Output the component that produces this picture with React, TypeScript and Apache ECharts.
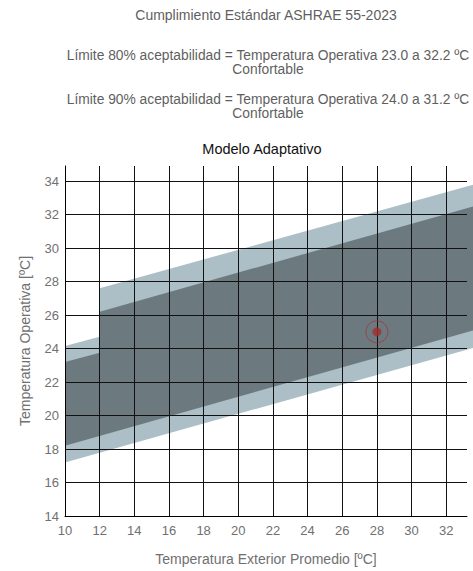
import React, { useEffect, useRef } from "react";
import * as echarts from "echarts";

// Header texts
const headerTitle = "Cumplimiento Estándar ASHRAE 55-2023";
const limit80Text = "Límite 80% aceptabilidad = Temperatura Operativa 23.0 a 32.2 ºC\nConfortable";
const limit90Text = "Límite 90% aceptabilidad = Temperatura Operativa 24.0 a 31.2 ºC\nConfortable";
const chartTitle = "Modelo Adaptativo";
const xAxisName = "Temperatura Exterior Promedio [ºC]";
const yAxisName = "Temperatura Operativa [ºC]";

// Axis ranges / ticks
const xMin = 10;
const xMax = 33.2;
const xStep = 2;
const yMin = 14;
const yMax = 34.9;
const yStep = 2;

// Acceptability bands (outline points: lower edge left->right, upper edge right->left)
const band80: number[][] = [
  [10, 17.2],
  [33.6, 24.05],
  [33.6, 33.8],
  [12, 27.6],
  [12, 24.7],
  [10, 24.15],
];
const band90: number[][] = [
  [10, 18.2],
  [33.6, 25.1],
  [33.6, 32.5],
  [12, 26.2],
  [12, 23.75],
  [10, 23.2],
];

// Measured condition
const measuredPoint: number[][] = [[28, 25]];

const FONT = "'Liberation Sans', Arial, sans-serif";
const GREY = "#707070";
const HEAD = "#5f5f5f";

export default function App() {
  const ref = useRef<HTMLDivElement>(null);

  useEffect(() => {
    const chart = echarts.init(ref.current as HTMLDivElement, null, { renderer: "svg" });

    const bandSeries = (name: string, pts: number[][], color: string, z: number) => ({
      type: "custom",
      name,
      z,
      clip: false,
      silent: true,
      encode: { x: 0, y: 1 },
      data: pts,
      renderItem: (params: any, api: any) => {
        if (params.dataIndex !== 0) return null;
        return {
          type: "polygon",
          shape: { points: pts.map((p) => api.coord(p)) },
          style: { fill: color, stroke: "none" },
        };
      },
    });

    const textEl = (text: string, x: number, y: number, color: string, size: number, lh?: number) => ({
      type: "text",
      x,
      y,
      style: {
        text,
        fill: color,
        fontSize: size,
        fontFamily: FONT,
        lineHeight: lh || size + 2,
        textAlign: "center",
        textVerticalAlign: "middle",
      },
    });

    chart.setOption({
      animation: false,
      backgroundColor: "#ffffff",
      textStyle: { fontFamily: FONT },
      grid: { left: 65, right: 6, top: 166, bottom: 45, containLabel: false },
      graphic: [
        textEl(headerTitle, 266, 15, HEAD, 14),
        textEl(limit80Text, 268, 62.5, HEAD, 13.8, 14),
        textEl(limit90Text, 268, 106.5, HEAD, 13.8, 14),
        textEl(chartTitle, 262, 149, "#111111", 14.5),
      ],
      xAxis: {
        type: "value",
        min: xMin,
        max: xMax,
        interval: xStep,
        z: 3,
        name: xAxisName,
        nameLocation: "middle",
        nameGap: 36,
        nameTextStyle: { color: GREY, fontSize: 14, fontFamily: FONT },
        axisLine: { show: true, onZero: false, lineStyle: { color: "#000", width: 1 } },
        axisTick: { show: false },
        axisLabel: { color: GREY, fontSize: 13, margin: 8, showMaxLabel: false, fontFamily: FONT },
        splitLine: {
          show: true,
          showMinLine: false,
          showMaxLine: false,
          lineStyle: { color: "#111", width: 1 },
        },
      },
      yAxis: {
        type: "value",
        min: yMin,
        max: yMax,
        interval: yStep,
        z: 3,
        name: yAxisName,
        nameLocation: "middle",
        nameGap: 33,
        nameTextStyle: { color: GREY, fontSize: 14, fontFamily: FONT },
        axisLine: { show: true, onZero: false, lineStyle: { color: "#000", width: 1 } },
        axisTick: { show: false },
        axisLabel: { color: GREY, fontSize: 13, margin: 6, showMaxLabel: false, fontFamily: FONT },
        splitLine: {
          show: true,
          showMinLine: false,
          showMaxLine: false,
          lineStyle: { color: "#111", width: 1 },
        },
      },
      series: [
        bandSeries("80%", band80, "#adbfc6", 1),
        bandSeries("90%", band90, "#6c7a80", 2),
        {
          type: "scatter",
          name: "ring",
          z: 5,
          data: measuredPoint,
          symbol: "circle",
          symbolSize: 22,
          itemStyle: { color: "rgba(0,0,0,0)", borderColor: "rgba(170,40,40,0.8)", borderWidth: 1 },
          silent: true,
        },
        {
          type: "scatter",
          name: "punto",
          z: 6,
          data: measuredPoint,
          symbol: "circle",
          symbolSize: 9,
          itemStyle: { color: "#a52d2d" },
          silent: true,
        },
      ],
    });

    return () => {
      chart.dispose();
    };
  }, []);

  return (
    <div
      ref={ref}
      style={{ position: "fixed", left: 0, top: 0, width: 473, height: 571 }}
    />
  );
}
